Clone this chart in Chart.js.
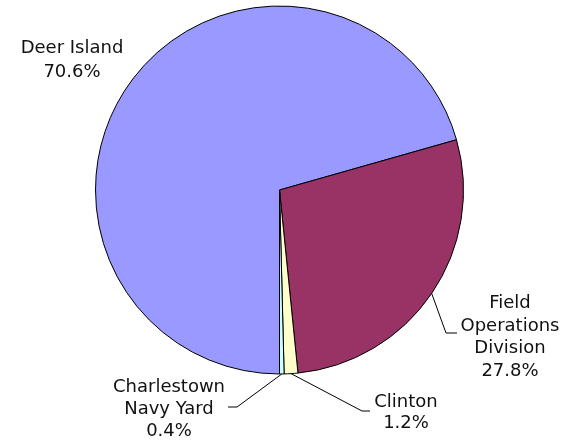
<!DOCTYPE html>
<html>
<head>
<meta charset="utf-8">
<script src="https://cdn.jsdelivr.net/npm/chart.js@4/dist/chart.umd.min.js"></script>
<style>
  html, body { margin: 0; padding: 0; background: #ffffff; }
  #wrap { width: 576px; height: 441px; }
</style>
</head>
<body>
<div id="wrap"><canvas id="c" width="576" height="441"></canvas></div>
<script>
// Share of total by facility (percent)
const categories = [
  ['Deer Island'],
  ['Field', 'Operations', 'Division'],
  ['Clinton'],
  ['Charlestown', 'Navy Yard']
];
const shares = [70.6, 27.8, 1.2, 0.4];
const sliceColors = ['#9999FF', '#993366', '#FFFFCC', '#CCFFFF'];

// Label placement: text centre x, first baseline y, line step, optional leader (elbow + end)
const labelLayout = [
  { x: 72,  y: 53,  step: 23.5, leader: null },
  { x: 510, y: 308, step: 22.5, leader: { elbow: [446, 333], end: [457, 333] } },
  { x: 406, y: 407, step: 21,   leader: { elbow: [362, 411], end: [370, 411] } },
  { x: 169, y: 392, step: 22,   leader: { elbow: [237, 407], end: [228, 407] } }
];

const sliceLabels = {
  id: 'sliceLabels',
  afterDraw(chart) {
    const ctx = chart.ctx;
    const arcs = chart.getDatasetMeta(0).data;
    ctx.save();
    ctx.font = '18px "DejaVu Sans", Verdana, sans-serif';
    ctx.fillStyle = '#111111';
    ctx.textAlign = 'center';
    ctx.textBaseline = 'alphabetic';
    arcs.forEach((arc, i) => {
      const lay = labelLayout[i];
      const p = arc.getProps(['x', 'y', 'startAngle', 'endAngle', 'outerRadius'], true);
      if (lay.leader) {
        const mid = (p.startAngle + p.endAngle) / 2;
        const sx = p.x + Math.cos(mid) * p.outerRadius;
        const sy = p.y + Math.sin(mid) * p.outerRadius;
        ctx.beginPath();
        ctx.strokeStyle = '#000000';
        ctx.lineWidth = 1;
        ctx.moveTo(sx, sy);
        ctx.lineTo(lay.leader.elbow[0], lay.leader.elbow[1]);
        ctx.lineTo(lay.leader.end[0], lay.leader.end[1]);
        ctx.stroke();
      }
      const lines = categories[i].concat([shares[i].toFixed(1) + '%']);
      lines.forEach((t, k) => ctx.fillText(t, lay.x, lay.y + k * lay.step));
    });
    ctx.restore();
  }
};

new Chart(document.getElementById('c'), {
  type: 'pie',
  data: {
    labels: categories.map(l => l.join(' ')),
    datasets: [{
      data: shares,
      backgroundColor: sliceColors,
      borderColor: '#000000',
      borderWidth: 1
    }]
  },
  options: {
    responsive: false,
    animation: false,
    rotation: 180,
    layout: { padding: { left: 95, right: 112, top: 5, bottom: 66 } },
    plugins: {
      legend: { display: false },
      tooltip: { enabled: false }
    }
  },
  plugins: [sliceLabels]
});
</script>
</body>
</html>
